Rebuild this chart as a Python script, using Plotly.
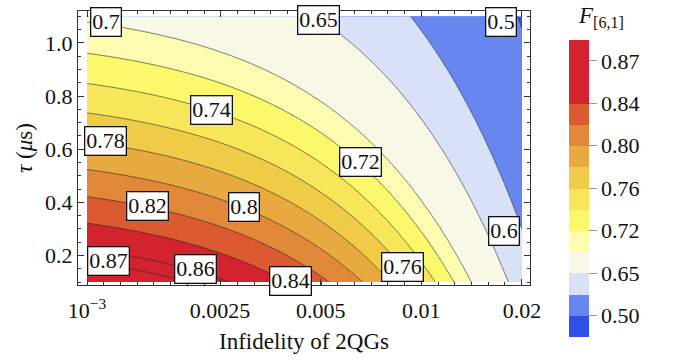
import numpy as np
import plotly.graph_objects as go

# ---------------- data ----------------
# contour levels of the fidelity F[6,1] and the colours of the 14 bands (lowest first)
levels = [0.50, 0.60, 0.65, 0.70, 0.72, 0.74, 0.76, 0.78, 0.80, 0.82, 0.84, 0.86, 0.87]
band_colors = ["#2D50E6", "#6786F0", "#D9E1F8", "#F8F8E6", "#FCFBB0", "#FCF86C", "#F7E65A",
               "#F0CB48", "#E8AA40", "#E2883A", "#DB5A32", "#D2232E", "#D2232E", "#D2232E"]
cbar_tick_values = [0.50, 0.65, 0.72, 0.76, 0.80, 0.84, 0.87]
cbar_tick_text = ["0.50", "0.65", "0.72", "0.76", "0.80", "0.84", "0.87"]

# fidelity surface estimated from the contours: ln F = F0_LOG - N_GATES * p - K_TAU * tau
F0_LOG = -0.0789
N_GATES = 18.0
K_TAU = 0.241

p_range = [1e-3, 0.02]       # infidelity of 2QGs
tau_range = [0.1, 1.1]       # tau (us)

x_tick_vals = [0.001, 0.0025, 0.005, 0.01, 0.02]
x_tick_text = ["10<sup>\u22123</sup>", "0.0025", "0.005", "0.01", "0.02"]
y_tick_vals = [0.2, 0.4, 0.6, 0.8, 1.0]

# contour labels: text, infidelity, tau
label_text = ["0.7", "0.65", "0.5", "0.74", "0.78", "0.72", "0.82", "0.8", "0.6",
              "0.87", "0.86", "0.84", "0.76"]
label_p = [0.001136, 0.004941, 0.0173, 0.002349, 0.001132, 0.006574, 0.001517, 0.002958,
           0.01772, 0.001163, 0.002118, 0.004061, 0.00881]
label_tau = [1.077, 1.088, 1.078, 0.748, 0.630, 0.551, 0.387, 0.381, 0.292,
             0.179, 0.151, 0.103, 0.157]

# ---------------- build the figure ----------------
p = np.logspace(np.log10(p_range[0]), np.log10(p_range[1]), 320)
tau = np.linspace(tau_range[0], tau_range[1], 220)
P, T = np.meshgrid(p, tau)
F = np.exp(F0_LOG - N_GATES * P - K_TAU * T)

# map F onto equally spaced level indices (1..13) so the uneven levels become even bands
lv = np.array(levels)
idx = np.arange(1, len(lv) + 1, dtype=float)
Z = np.interp(F, lv, idx)
lo = F < lv[0]
hi = F > lv[-1]
Z[lo] = 1 + (F[lo] - lv[0]) / (lv[1] - lv[0])
Z[hi] = len(lv) + (F[hi] - lv[-1]) / (lv[-1] - lv[-2])

nb = len(band_colors)
fill_scale = [[k / (nb - 1), c] for k, c in enumerate(band_colors)]

FONT = "Liberation Serif, DejaVu Serif, serif"

fig = go.Figure()
fig.add_trace(go.Contour(
    x=p, y=tau, z=Z,
    contours=dict(start=1, end=len(lv), size=1, coloring="fill", showlines=True),
    colorscale=fill_scale,
    line=dict(color="rgba(35,35,35,0.75)", width=0.8),
    showscale=False, hoverinfo="skip",
))

# colour bar with 14 equal bands
step_scale = []
for k, c in enumerate(band_colors):
    step_scale.append([k / nb, c])
    step_scale.append([(k + 1) / nb, c])
cb_tickpos = [levels.index(v) + 1 for v in cbar_tick_values]

fig.add_trace(go.Scatter(
    x=[None], y=[None], mode="markers", hoverinfo="skip", showlegend=False,
    marker=dict(
        color=[0], cmin=0, cmax=nb, colorscale=step_scale, showscale=True,
        colorbar=dict(
            thickness=20, len=297, lenmode="pixels",
            x=(569 - 78) / 452, xanchor="left", xpad=0,
            y=(286 - 188.5) / 276, yanchor="middle", ypad=0,
            outlinewidth=0,
            tickmode="array", tickvals=cb_tickpos, ticktext=cbar_tick_text,
            ticks="outside", ticklen=8, tickcolor="#999999", tickwidth=1.2,
            tickfont=dict(family=FONT, size=22, color="#111111"),
        ),
    ),
))

annotations = []
for t, px, ty in zip(label_text, label_p, label_tau):
    annotations.append(dict(
        x=np.log10(px), y=ty, xref="x", yref="y", text=t, showarrow=False,
        xanchor="center", yanchor="middle",
        font=dict(family=FONT, size=22, color="#111111"),
        bgcolor="white", bordercolor="#111111", borderwidth=1.3, borderpad=1,
    ))
annotations.append(dict(
    x=(601 - 78) / 452, y=(286 - 16) / 276, xref="paper", yref="paper",
    xanchor="center", yanchor="middle",
    text="<i>F</i><sub>[6,1]</sub>", showarrow=False,
    font=dict(family=FONT, size=23, color="#111111"),
))

axis_common = dict(
    showline=True, linecolor="#333333", linewidth=1, mirror="allticks",
    ticks="inside", ticklen=6, tickcolor="#333333", tickwidth=1,
    showgrid=False, zeroline=False,
    tickfont=dict(family=FONT, size=22, color="#111111"),
)

fig.update_layout(
    width=694, height=360,
    margin=dict(l=78, r=164, t=10, b=74),
    paper_bgcolor="white", plot_bgcolor="white",
    showlegend=False,
    font=dict(family=FONT),
    annotations=annotations,
    xaxis=dict(
        type="log", range=[-3.027, -1.675],
        tickmode="array", tickvals=x_tick_vals, ticktext=x_tick_text,
        ticklabelstandoff=6,
        minor=dict(ticks="inside", ticklen=3, tickcolor="#333333", tick0=-3, dtick=0.05),
        title=dict(text="Infidelity of 2QGs", font=dict(family=FONT, size=23, color="#111111"),
                   standoff=10),
        **axis_common,
    ),
    yaxis=dict(
        range=[0.089, 1.12],
        tickmode="array", tickvals=y_tick_vals, tickformat=".1f",
        minor=dict(ticks="inside", ticklen=3, tickcolor="#333333", tick0=0, dtick=0.05),
        title=dict(text="<i>\u03c4</i> (<i>\u03bc</i>s)", font=dict(family=FONT, size=23, color="#111111"),
                   standoff=6),
        **axis_common,
    ),
)

fig.write_html("out.html")
